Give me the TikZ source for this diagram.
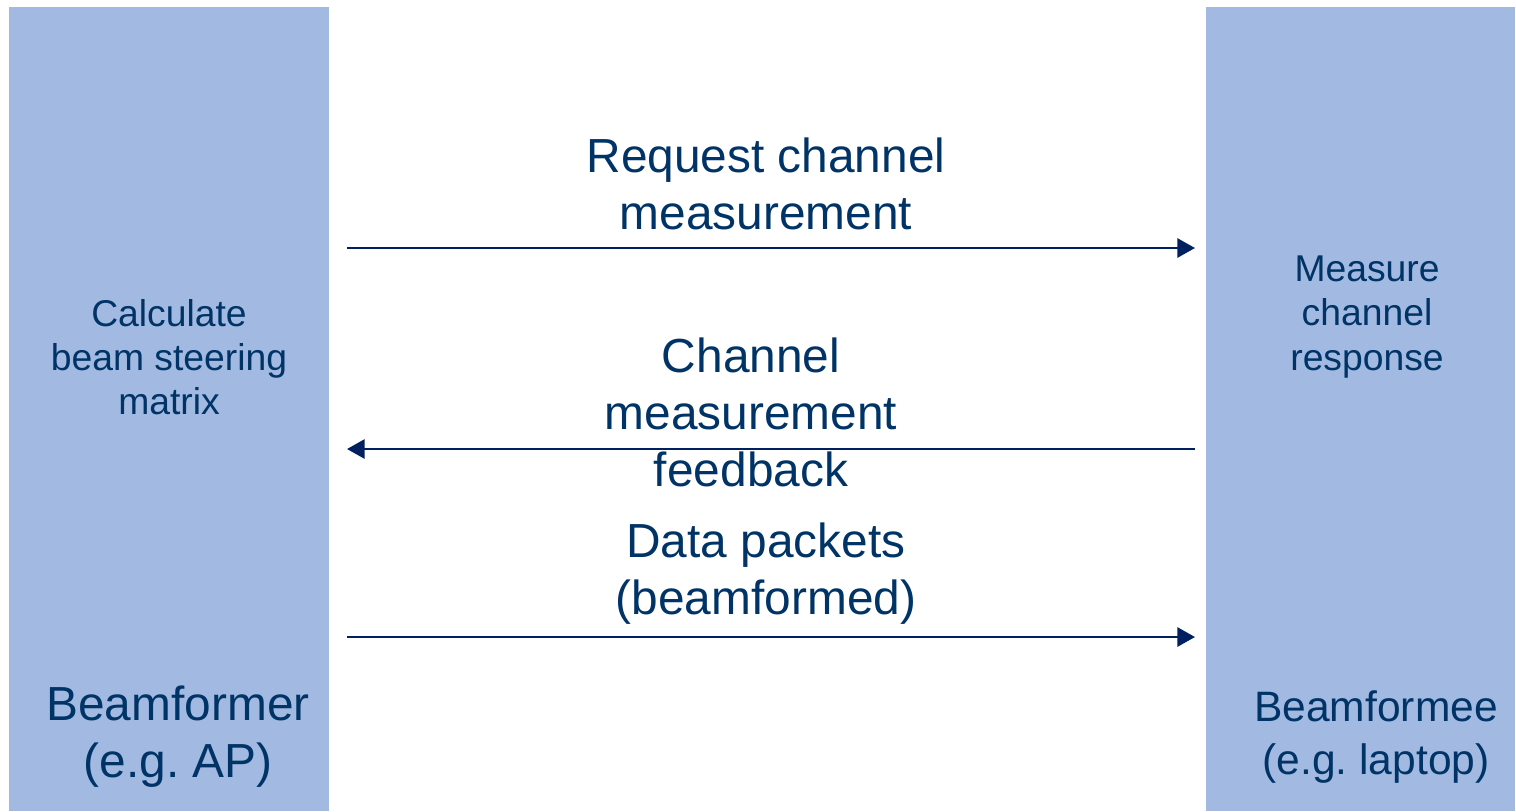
\documentclass[tikz,border=0pt]{standalone}
\usepackage{fontspec}
\setmainfont{Liberation Sans}
\usetikzlibrary{arrows.meta}
\definecolor{barblue}{RGB}{162,185,225}
\definecolor{textnavy}{RGB}{0,51,102}
\definecolor{arrownavy}{RGB}{0,32,96}
\newcommand{\bigtext}{\fontsize{13.6}{16.2}\selectfont}
\newcommand{\smalltext}{\fontsize{10.6}{12.6}\selectfont}
\frenchspacing
\tikzset{
    bar/.style={fill=barblue, draw=none},
    msg/.style={text=textnavy, align=center, inner sep=0pt, font=\bigtext},
    note/.style={text=textnavy, align=center, inner sep=0pt, font=\smalltext},
    flow/.style={arrownavy, line width=0.75pt, -{Triangle[length=5pt,width=5.4pt]}}
}
\begin{document}
\begin{tikzpicture}[x=0.01cm, y=-0.01cm]
    \useasboundingbox (0,0) rectangle (1516,811);

    % Station bars
    \fill[bar] (9,7) rectangle (329,811);
    \fill[bar] (1206,7) rectangle (1515,811);

    % Texts on the bars
    \node[note] (calc) at (169,357) {Calculate\\beam steering\\matrix};
    \node[note] (meas) at (1367,317) {Measure\\channel\\response};
    \node[msg] (bfr) at (178,737) {Beamformer\\(e.g. AP)};
    \node[msg, font=\fontsize{12.1}{14.8}\selectfont] (bfe) at (1376,737) {Beamformee\\(e.g. laptop)};

    % End points of the messages
    \coordinate (reqL) at (347,248);
    \coordinate (reqR) at (1195,248);
    \coordinate (fbL) at (347,449);
    \coordinate (fbR) at (1195,449);
    \coordinate (dataL) at (347,637);
    \coordinate (dataR) at (1195,637);

    % Messages
    \draw[flow] (reqL) -- (reqR);
    \draw[flow] (fbR) -- (fbL);
    \draw[flow] (dataL) -- (dataR);

    % Message labels
    \node[msg] (req) at (766,184) {Request channel\\measurement};
    \node[msg] (fb) at (751,412) {Channel\\measurement\\feedback};
    \node[msg] (data) at (766,574) {Data packets\\(beamformed)};
\end{tikzpicture}
\end{document}
